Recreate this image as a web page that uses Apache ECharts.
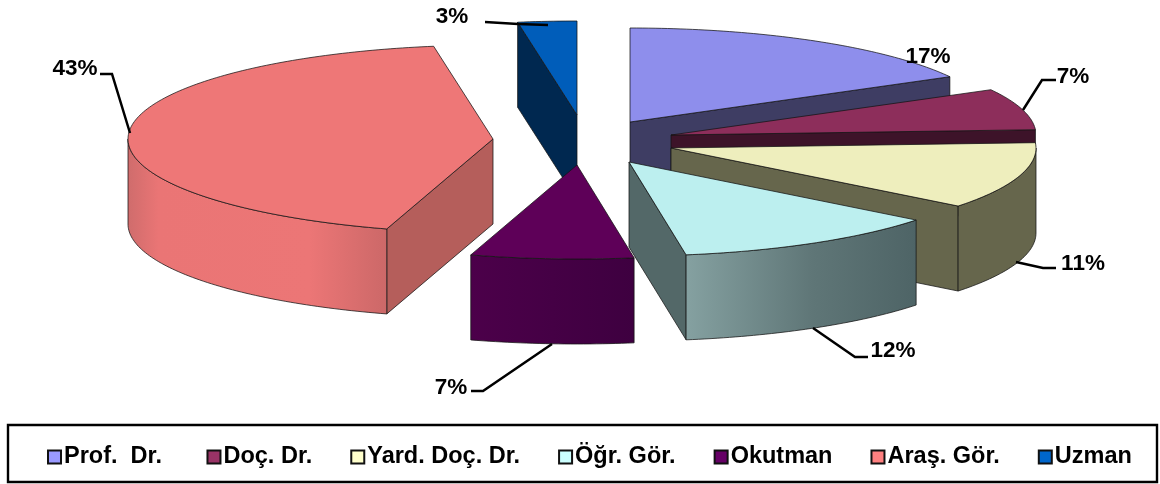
<!DOCTYPE html>
<html><head><meta charset="utf-8">
<style>html,body{margin:0;padding:0;background:#fff}#c{width:1160px;height:484px}</style>
<script src="https://cdn.jsdelivr.net/npm/echarts@6/dist/echarts.min.js"></script>
</head><body><div id="c"></div>
<script>
var categories = ['Prof.  Dr. ', 'Doç. Dr.', 'Yard. Doç. Dr.', 'Öğr. Gör.', 'Okutman', 'Araş. Gör.', 'Uzman'];
var values = [17.0, 7.1, 11.49, 11.91, 7.2, 42.7, 2.6];

var legendColors = ['#9999ff', '#993366', '#ffffcc', '#ccffff', '#660066', '#ff8080', '#0066cc'];
var topColors = ['#8e8eec', '#8d2e5b', '#eeeebd', '#bcefef', '#5e0058', '#ee7777', '#005dba'];
var radialColors = ['#3e3d63', '#3d1329', '#66664c', '#536868', '#3e0040', '#b55e5b', '#002850'];
var wallStops = [
  [[0, '#3e3d63'], [1, '#3e3d63']],
  [[0, '#3d1329'], [1, '#3d1329']],
  [[0, '#66664c'], [1, '#66664c']],
  [[0, '#85a1a1'], [0.55, '#5f7677'], [1, '#4e6466']],
  [[0, '#4c004a'], [1, '#3e0040']],
  [[0, '#cf6c6c'], [0.12, '#ea7575'], [0.7, '#ec7676'], [1, '#cc6868']],
  [[0, '#002850'], [1, '#002850']]
];
// Layout: pie radii and thickness, explode offset of each slice
var rx = 365, ry = 94, depth = 85;
var pieCentre = [578, 140];
var explode = [[52, -18], [93, -5], [93, 8], [51, 22], [-1, 25], [-85, -1], [-1, -25]];
var drawOrder = [0, 6, 1, 2, 5, 3, 4];
var labelPos = [[928, 57], [1073, 77], [1083, 264], [893, 351], [451, 388], [75, 69], [452, 17]];
var leaders = [null,
  [[1023, 110], [1042, 80], [1056, 80]],
  [[1016, 262], [1043, 268], [1056, 268]],
  [[813, 328], [855, 357], [868, 357]],
  [[552, 344], [483, 391], [471, 391]],
  [[130, 133], [112, 74], [100, 74]],
  [[485, 22], [518, 24], [548, 25]]];

var total = values.reduce(function (a, b) { return a + b; }, 0);
var starts = [], acc = 0;
values.forEach(function (v) { starts.push(acc); acc += v; });
function toAngle(v) { return echarts.number.linearMap(v, [0, total], [0, 360]); }
function pt(c, deg, dy) {
  var r = deg * Math.PI / 180;
  return [c[0] + rx * Math.sin(r), c[1] - ry * Math.cos(r) + (dy || 0)];
}
function arc(c, a0, a1, dy) {
  var out = [], n = Math.max(2, Math.ceil(Math.abs(a1 - a0)));
  for (var i = 0; i <= n; i++) out.push(pt(c, a0 + (a1 - a0) * i / n, dy));
  return out;
}
var edge = { stroke: 'rgba(20,20,20,0.75)', lineWidth: 1 };
function face(points, fill) {
  return { type: 'polygon', shape: { points: points }, style: { fill: fill, stroke: edge.stroke, lineWidth: edge.lineWidth } };
}
function renderSlice(idx, api) {
  var v = api.value(0);
  var a0 = toAngle(starts[idx]), a1 = toAngle(starts[idx] + v);
  var c = [pieCentre[0] + explode[idx][0], pieCentre[1] + explode[idx][1]];
  var kids = [];
  if (a1 < 180) { // trailing radial face looks at the viewer
    var p = pt(c, a1);
    kids.push(face([c, p, [p[0], p[1] + depth], [c[0], c[1] + depth]], radialColors[idx]));
  }
  if (a0 > 180) { // leading radial face looks at the viewer
    var q = pt(c, a0);
    kids.push(face([c, q, [q[0], q[1] + depth], [c[0], c[1] + depth]], radialColors[idx]));
  }
  var w0 = Math.max(a0, 90), w1 = Math.min(a1, 270);
  if (w1 > w0) {
    var top = arc(c, w0, w1, 0), bot = arc(c, w1, w0, depth);
    kids.push(face(top.concat(bot), {
      type: 'linear', x: 0, y: 0, x2: 1, y2: 0,
      colorStops: wallStops[idx].map(function (s) { return { offset: s[0], color: s[1] }; })
    }));
  }
  kids.push(face([c].concat(arc(c, a0, a1, 0)), topColors[idx]));
  return { type: 'group', children: kids };
}
function renderLabel(params, api) {
  var i = params.dataIndex, kids = [];
  if (leaders[i]) kids.push({ type: 'polyline', shape: { points: leaders[i] }, style: { fill: 'none', stroke: '#000', lineWidth: 2.5 } });
  kids.push({ type: 'text', style: {
    text: Math.round(api.value(0)) + '%', x: labelPos[i][0], y: labelPos[i][1],
    align: 'center', verticalAlign: 'middle', fill: '#000',
    font: 'bold 22.5px "Liberation Sans", Arial, sans-serif' } });
  return { type: 'group', children: kids };
}
var series = drawOrder.map(function (i) {
  return {
    type: 'custom', name: categories[i], coordinateSystem: 'none',
    data: [[values[i]]], silent: true, animation: false,
    itemStyle: { color: legendColors[i], borderColor: '#111', borderWidth: 1.6 },
    renderItem: function (params, api) { return renderSlice(i, api); }
  };
});
series.push({
  type: 'custom', name: 'labels', coordinateSystem: 'none', silent: true, animation: false,
  data: values.map(function (v) { return [v]; }), renderItem: renderLabel
});
var chart = echarts.init(document.getElementById('c'), null, { renderer: 'canvas' });
chart.setOption({
  animation: false,
  backgroundColor: '#fff',
  graphic: [{ type: 'rect', shape: { x: 8, y: 425, width: 1149, height: 57 },
    style: { fill: 'none', stroke: '#000', lineWidth: 2.4 } }],
  legend: {
    data: categories, left: 47, top: 445, orient: 'horizontal', itemGap: 38,
    itemWidth: 13, itemHeight: 13, icon: 'rect', selectedMode: false, padding: 0,
    textStyle: { color: '#000', fontWeight: 'bold', fontSize: 23.5, fontFamily: '"Liberation Sans", Arial, sans-serif', padding: [0, 0, 0, -2] }
  },
  series: series
});
</script></body></html>
